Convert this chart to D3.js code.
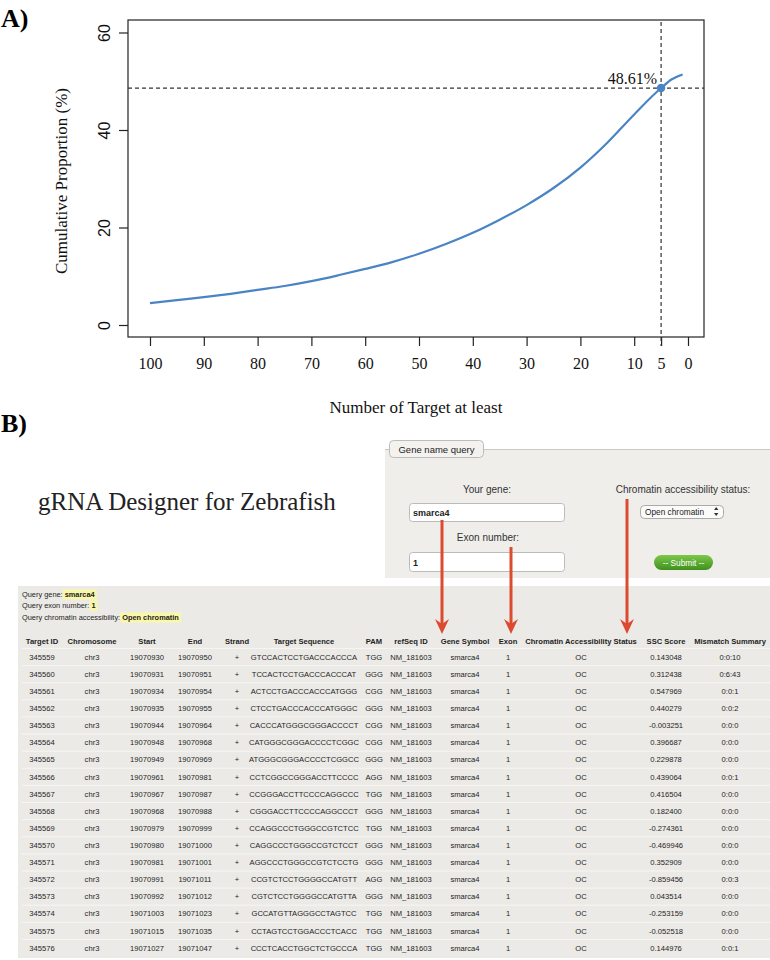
<!DOCTYPE html>
<html><head><meta charset="utf-8">
<script src="https://cdn.jsdelivr.net/npm/d3@7"></script>
<style>body{margin:0;background:#fff}svg{display:block}</style>
</head><body>
<svg id="fig" width="770" height="960"></svg>
<script>
// ---------- Panel A data ----------
const targetCounts = [100,95,90,85,80,75,70,65,60,55,50,45,40,35,30,25,20,15,10,5,3,1];
const cumulativePct = [4.5,5.1,5.7,6.4,7.2,8.0,9.0,10.2,11.5,12.9,14.6,16.6,18.9,21.6,24.6,28.1,32.3,37.4,43.2,48.61,50.4,51.4];
const xTickValues = [100,90,80,70,60,50,40,30,20,10,5,0];
const yTickValues = [0,20,40,60];
const markedTarget = 5;
const markedPct = 48.61;

// ---------- Panel B data ----------
const tableHeaders = ["Target ID","Chromosome","Start","End","Strand","Target Sequence","PAM","refSeq ID","Gene Symbol","Exon","Chromatin Accessibility Status","SSC Score","Mismatch Summary"];
const targetIds = ["345559","345560","345561","345562","345563","345564","345565","345566","345567","345568","345569","345570","345571","345572","345573","345574","345575","345576"];
const startPos = ["19070930","19070931","19070934","19070935","19070944","19070948","19070949","19070961","19070967","19070968","19070979","19070980","19070981","19070991","19070992","19071003","19071015","19071027"];
const endPos = ["19070950","19070951","19070954","19070955","19070964","19070968","19070969","19070981","19070987","19070988","19070999","19071000","19071001","19071011","19071012","19071023","19071035","19071047"];
const sequences = ["GTCCACTCCTGACCCACCCA","TCCACTCCTGACCCACCCAT","ACTCCTGACCCACCCATGGG","CTCCTGACCCACCCATGGGC","CACCCATGGGCGGGACCCCT","CATGGGCGGGACCCCTCGGC","ATGGGCGGGACCCCTCGGCC","CCTCGGCCGGGACCTTCCCC","CCGGGACCTTCCCCAGGCCC","CGGGACCTTCCCCAGGCCCT","CCAGGCCCTGGGCCGTCTCC","CAGGCCCTGGGCCGTCTCCT","AGGCCCTGGGCCGTCTCCTG","CCGTCTCCTGGGGCCATGTT","CGTCTCCTGGGGCCATGTTA","GCCATGTTAGGGCCTAGTCC","CCTAGTCCTGGACCCTCACC","CCCTCACCTGGCTCTGCCCA"];
const pams = ["TGG","GGG","CGG","GGG","CGG","CGG","GGG","AGG","TGG","GGG","TGG","GGG","GGG","AGG","GGG","TGG","TGG","TGG"];
const sscScores = ["0.143048","0.312438","0.547969","0.440279","-0.003251","0.396687","0.229878","0.439064","0.416504","0.182400","-0.274361","-0.469946","0.352909","-0.859456","0.043514","-0.253159","-0.052518","0.144976"];
const mismatch = ["0:0:10","0:6:43","0:0:1","0:0:2","0:0:0","0:0:0","0:0:0","0:0:1","0:0:0","0:0:0","0:0:0","0:0:0","0:0:0","0:0:3","0:0:0","0:0:0","0:0:0","0:0:1"];
const chromosome = "chr3", strand = "+", refSeq = "NM_181603", geneSymbol = "smarca4", exonNo = "1", status = "OC";

const svg = d3.select("#fig");
const serif = "'Liberation Serif','Times New Roman',serif";
const sans = "'Liberation Sans',Arial,sans-serif";

// ================= Panel A =================
const plot = {left:128, right:704, top:20, bottom:337};
const x = d3.scaleLinear().domain([100,0]).range([150,688]);
const y = d3.scaleLinear().domain([0,60]).range([325,32.5]);

svg.append("text").attr("x",1).attr("y",27).attr("font-family",serif)
  .attr("font-weight","bold").attr("font-size",26).text("A)");

// box
svg.append("rect").attr("x",plot.left).attr("y",plot.top)
  .attr("width",plot.right-plot.left).attr("height",plot.bottom-plot.top)
  .attr("fill","none").attr("stroke","#222").attr("stroke-width",1.2);

// x axis
const xAxis = svg.append("g").attr("transform",`translate(0,${plot.bottom})`)
  .call(d3.axisBottom(x).tickValues(xTickValues).tickSize(9).tickPadding(12).tickFormat(d3.format("d")));
xAxis.select(".domain").remove();
xAxis.selectAll("line").attr("stroke","#222").attr("stroke-width",1.2);
xAxis.selectAll("text").attr("font-family",serif).attr("font-size",16).attr("fill","#111");

// y axis
const yAxis = svg.append("g").attr("transform",`translate(${plot.left},0)`)
  .call(d3.axisLeft(y).tickValues(yTickValues).tickSize(9));
yAxis.select(".domain").remove();
yAxis.selectAll("line").attr("stroke","#222").attr("stroke-width",1.2);
yAxis.selectAll("text").remove();
yAxis.selectAll(".tick").append("text")
  .attr("transform","translate(-24,0) rotate(-90)")
  .attr("text-anchor","middle").attr("dy","0.35em")
  .attr("font-family",sans).attr("font-size",16).attr("fill","#111")
  .text(d=>d);

// axis titles
svg.append("text").attr("x",416).attr("y",413).attr("text-anchor","middle")
  .attr("font-family",serif).attr("font-size",17).attr("fill","#111").text("Number of Target at least");
svg.append("text").attr("transform","translate(67,181) rotate(-90)").attr("text-anchor","middle")
  .attr("font-family",serif).attr("font-size",17).attr("fill","#111").text("Cumulative Proportion (%)");

// reference lines
svg.append("line").attr("x1",plot.left).attr("x2",plot.right)
  .attr("y1",y(markedPct)).attr("y2",y(markedPct))
  .attr("stroke","#333").attr("stroke-width",1.2).attr("stroke-dasharray","4,3");
svg.append("line").attr("x1",x(markedTarget)).attr("x2",x(markedTarget))
  .attr("y1",plot.top+2).attr("y2",plot.bottom+9)
  .attr("stroke","#333").attr("stroke-width",1.2).attr("stroke-dasharray","4,3");

// curve
const pts = targetCounts.map((t,i)=>[t,cumulativePct[i]]);
svg.append("path").datum(pts)
  .attr("d",d3.line().x(d=>x(d[0])).y(d=>y(d[1])).curve(d3.curveMonotoneX))
  .attr("fill","none").attr("stroke","#4a84c4").attr("stroke-width",2.2);
svg.append("circle").attr("cx",x(markedTarget)).attr("cy",y(markedPct)).attr("r",4.2).attr("fill","#4a84c4");
svg.append("text").attr("x",x(markedTarget)-4).attr("y",y(markedPct)-4)
  .attr("text-anchor","end").attr("font-family",serif).attr("font-size",16).attr("fill","#111")
  .text(markedPct.toFixed(2)+"%");

// ================= Panel B =================
svg.append("text").attr("x",1).attr("y",432).attr("font-family",serif)
  .attr("font-weight","bold").attr("font-size",26).text("B)");
svg.append("text").attr("x",38).attr("y",510).attr("font-family",serif)
  .attr("font-size",25).attr("fill","#222").text("gRNA Designer for Zebrafish");

// form panel
const defs = svg.append("defs");
const g1 = defs.append("linearGradient").attr("id","btn").attr("x1",0).attr("x2",0).attr("y1",0).attr("y2",1);
g1.append("stop").attr("offset","0%").attr("stop-color","#7cc84a");
g1.append("stop").attr("offset","100%").attr("stop-color","#3f901c");
const mk = defs.append("marker").attr("id","arr").attr("viewBox","0 0 10 10").attr("refX",5).attr("refY",8)
  .attr("markerWidth",4.2).attr("markerHeight",4.2).attr("orient","auto-start-reverse").attr("markerUnits","strokeWidth");

svg.append("rect").attr("x",385).attr("y",449).attr("width",385).attr("height",129).attr("fill","#efeeeb");
svg.append("line").attr("x1",385).attr("x2",770).attr("y1",449.5).attr("y2",449.5).attr("stroke","#c9c8c4");
svg.append("rect").attr("x",389.5).attr("y",440.5).attr("width",94).attr("height",17).attr("rx",4)
  .attr("fill","#f3f2ef").attr("stroke","#bdbcb8");
svg.append("text").attr("x",436.5).attr("y",452.5).attr("text-anchor","middle").attr("font-family",sans)
  .attr("font-size",9.5).attr("fill","#222").text("Gene name query");

svg.append("text").attr("x",487).attr("y",493).attr("text-anchor","middle").attr("font-family",sans)
  .attr("font-size",10).attr("fill","#333").text("Your gene:");
svg.append("rect").attr("x",409.5).attr("y",503.5).attr("width",155).attr("height",18).attr("rx",3)
  .attr("fill","#fff").attr("stroke","#bbb");
svg.append("text").attr("x",413).attr("y",516).attr("font-family",sans).attr("font-weight","bold")
  .attr("font-size",9).attr("fill","#222").text("smarca4");
svg.append("text").attr("x",488).attr("y",541).attr("text-anchor","middle").attr("font-family",sans)
  .attr("font-size",10).attr("fill","#333").text("Exon number:");
svg.append("rect").attr("x",409.5).attr("y",552.5).attr("width",155).attr("height",19).attr("rx",3)
  .attr("fill","#fff").attr("stroke","#bbb");
svg.append("text").attr("x",413).attr("y",565.5).attr("font-family",sans).attr("font-weight","bold")
  .attr("font-size",9).attr("fill","#222").text("1");

svg.append("text").attr("x",683).attr("y",493).attr("text-anchor","middle").attr("font-family",sans)
  .attr("font-size",10).attr("fill","#333").text("Chromatin accessibility status:");
svg.append("rect").attr("x",640.5).attr("y",505.5).attr("width",83).attr("height",13).attr("rx",4)
  .attr("fill","#fbfbfa").attr("stroke","#aaa");
svg.append("text").attr("x",645).attr("y",515).attr("font-family",sans)
  .attr("font-size",8.3).attr("fill","#222").text("Open chromatin");
svg.append("path").attr("d","M714,510 l2.2,-3 l2.2,3 z M714,513 l2.2,3 l2.2,-3 z").attr("fill","#333");
svg.append("rect").attr("x",654).attr("y",555).attr("width",59).attr("height",15).attr("rx",7.5)
  .attr("fill","url(#btn)");
svg.append("text").attr("x",683.5).attr("y",565.5).attr("text-anchor","middle").attr("font-family",sans)
  .attr("font-size",8.3).attr("fill","#fff").text("-- Submit --");

// table area
svg.append("rect").attr("x",18).attr("y",586).attr("width",752).attr("height",372).attr("fill","#ebeae6");

const q = svg.append("g").attr("font-family",sans).attr("font-size",7.4).attr("fill","#222");
const qLines = [["Query gene: ","smarca4",597],["Query exon number: ","1",608],["Query chromatin accessibility: ","Open chromatin",620]];
qLines.forEach(([lab,val,yy])=>{
  const t = q.append("text").attr("x",22).attr("y",yy).text(lab);
  const w = t.node().getComputedTextLength();
  const v = q.append("text").attr("x",22+w+2).attr("y",yy).attr("font-weight","bold").text(val);
  const vw = v.node().getComputedTextLength();
  q.insert("rect","text").attr("x",22+w).attr("y",yy-7.5).attr("width",vw+4).attr("height",10).attr("fill","#fbf7a8");
});

const colX = [42,92,147,195,237,304,374,411,465,508,581,666,730];
const rowY = d3.scalePoint().domain(targetIds).range([657,948]);
const tb = svg.append("g").attr("font-family",sans).attr("font-size",7.6).attr("fill","#1e1e1e").attr("text-anchor","middle");
tableHeaders.forEach((h,i)=>{
  tb.append("text").attr("x",colX[i]).attr("y",644).attr("font-weight","bold").text(h);
});
const rowStep = rowY.step();
targetIds.forEach((id,r)=>{
  tb.append("line").attr("x1",22).attr("x2",770).attr("y1",rowY(id)-rowStep/2).attr("y2",rowY(id)-rowStep/2)
    .attr("stroke","#f7f6f3").attr("stroke-width",1);
  const cells = [id,chromosome,startPos[r],endPos[r],strand,sequences[r],pams[r],refSeq,geneSymbol,exonNo,status,sscScores[r],mismatch[r]];
  cells.forEach((c,i)=>{
    tb.append("text").attr("x",colX[i]).attr("y",rowY(id)+2.7).text(c);
  });
});

// red arrows
const arrowsX = [442,511,627];
const arrowsStart = [520,547,499];
arrowsX.forEach((ax,i)=>{
  svg.append("line").attr("x1",ax).attr("x2",ax).attr("y1",arrowsStart[i]).attr("y2",626)
    .attr("stroke","#dc4a30").attr("stroke-width",3);
  svg.append("path").attr("d",`M${ax-7},${619} L${ax},${634} L${ax+7},${619} L${ax},${624} Z`).attr("fill","#dc4a30");
});
</script>
</body></html>
